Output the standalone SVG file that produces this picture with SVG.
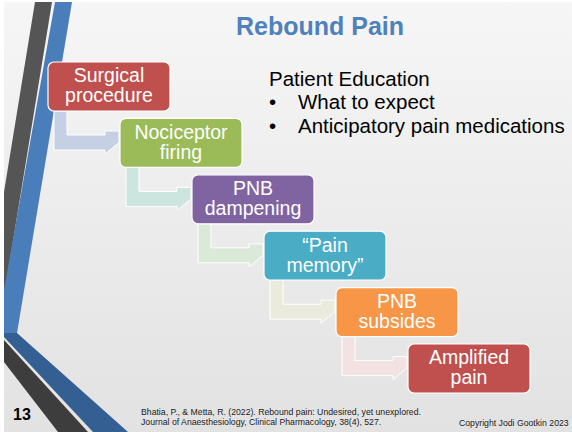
<svg xmlns="http://www.w3.org/2000/svg" width="572" height="432" viewBox="0 0 572 432">
<defs>
<linearGradient id="bg" x1="0" y1="0" x2="0" y2="1">
<stop offset="0" stop-color="#f6f6f6"/>
<stop offset="1" stop-color="#e2e2e2"/>
</linearGradient>
<style>
.box{stroke:#ffffff;stroke-width:1.2}
.arr{stroke:#ffffff;stroke-width:1}
.bt{font-family:"Liberation Sans",Arial,sans-serif;font-size:19.5px;fill:#ffffff;text-anchor:middle}
.tx{font-family:"Liberation Sans",Arial,sans-serif;font-size:20.5px;fill:#000000}
.sm{font-family:"Liberation Sans",Arial,sans-serif;font-size:8.7px;fill:#222222}
</style>
</defs>
<rect width="572" height="432" fill="#ffffff"/>
<rect x="4" y="2" width="568" height="430" fill="url(#bg)"/>
<g id="decoration">
<polygon points="35,2 52,2 5,290 4,290 4,192" fill="#555555"/>
<polygon points="55,2 72,2 17,333 4,333 4,290" fill="#4a7ebb"/>
<polygon points="4,333 17,333 128,432 93,432 4,337" fill="#345f93"/>
<polygon points="4,340 88,432 58,432 4,362" fill="#3d3d3d"/>
</g>
<g id="title">
<text x="320" y="35" font-family="'Liberation Sans',Arial,sans-serif" font-size="25" font-weight="bold" fill="#4f81bd" text-anchor="middle">Rebound Pain</text>
</g>
<g id="education">
<text class="tx" x="269" y="86">Patient Education</text>
<text class="tx" x="269" y="109">•</text>
<text class="tx" x="298" y="109">What to expect</text>
<text class="tx" x="269" y="133">•</text>
<text class="tx" x="298" y="133">Anticipatory pain medications</text>
</g>
<g id="connectors">
<path class="arr" fill="#c5d0e4" d="M54,111 H67 V135 H105 V131 H119 L119,142.5 L105,154 V150 H54 Z"/>
<path class="arr" fill="#cce5df" d="M126,167.4 H139 V191.4 H177 V187.4 H191 L191,198.9 L177,210.4 V206.4 H126 Z"/>
<path class="arr" fill="#dbead8" d="M198,223.8 H211 V247.8 H249 V243.8 H263 L263,255.3 L249,266.8 V262.8 H198 Z"/>
<path class="arr" fill="#ebebdd" d="M270,280.2 H283 V304.2 H321 V300.2 H335 L335,311.7 L321,323.2 V319.2 H270 Z"/>
<path class="arr" fill="#f3e2e2" d="M342,336.6 H355 V360.6 H393 V356.6 H407 L407,368.1 L393,379.6 V375.6 H342 Z"/>
</g>
<g id="n1">
<rect class="box" x="48" y="62" width="122" height="49" rx="6" fill="#c0504d"/>
<text class="bt" x="109" y="82.3">Surgical</text>
<text class="bt" x="109" y="102.3">procedure</text>
</g>
<g id="n2">
<rect class="box" x="120" y="118.4" width="122" height="49" rx="6" fill="#9bbb59"/>
<text class="bt" x="181" y="138.7">Nociceptor</text>
<text class="bt" x="181" y="158.7">firing</text>
</g>
<g id="n3">
<rect class="box" x="192" y="174.8" width="122" height="49" rx="6" fill="#8064a2"/>
<text class="bt" x="253" y="195.1">PNB</text>
<text class="bt" x="253" y="215.1">dampening</text>
</g>
<g id="n4">
<rect class="box" x="264" y="231.2" width="122" height="49" rx="6" fill="#4bacc6"/>
<text class="bt" x="325" y="251.5">“Pain</text>
<text class="bt" x="325" y="271.5">memory”</text>
</g>
<g id="n5">
<rect class="box" x="336" y="287.6" width="122" height="49" rx="6" fill="#f79646"/>
<text class="bt" x="397" y="307.9">PNB</text>
<text class="bt" x="397" y="327.9">subsides</text>
</g>
<g id="n6">
<rect class="box" x="408" y="344" width="122" height="49" rx="6" fill="#c0504d"/>
<text class="bt" x="469" y="364.3">Amplified</text>
<text class="bt" x="469" y="384.3">pain</text>
</g>
<g id="footer">
<text x="13" y="420" font-family="'Liberation Sans',Arial,sans-serif" font-size="16" font-weight="bold" fill="#000000">13</text>
<text class="sm" x="141" y="415">Bhatia, P., &amp; Metta, R. (2022). Rebound pain: Undesired, yet unexplored.</text>
<text class="sm" x="141" y="425">Journal of Anaesthesiology, Clinical Pharmacology, 38(4), 527.</text>
<text class="sm" x="459" y="426" font-size="7.7">Copyright Jodi Gootkin 2023</text>
</g>
</svg>
